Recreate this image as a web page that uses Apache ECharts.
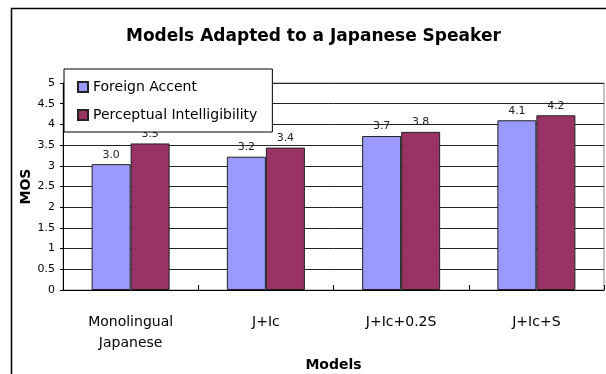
<!DOCTYPE html>
<html>
<head>
<meta charset="utf-8">
<script src="https://cdn.jsdelivr.net/npm/echarts@6/dist/echarts.min.js"></script>
<style>html,body{margin:0;padding:0;background:#fff;overflow:hidden}#c{width:606px;height:374px}</style>
</head>
<body>
<div id="c"></div>
<script>
const categories = ['Monolingual\nJapanese', 'J+Ic', 'J+Ic+0.2S', 'J+Ic+S'];
const foreignAccent = [3.04, 3.22, 3.72, 4.10];
const perceptualIntelligibility = [3.54, 3.44, 3.82, 4.22];
const seriesNames = ['Foreign Accent', 'Perceptual Intelligibility'];
const yTicks = { min: 0, max: 5, interval: 0.5 };

const FONT = 'DejaVu Sans, sans-serif';
const chart = echarts.init(document.getElementById('c'), null, { renderer: 'canvas' });
const labelCfg = {
  show: true, position: 'top', distance: 4, color: '#222', fontSize: 11, fontFamily: FONT,
  formatter: p => p.value.toFixed(1)
};
chart.setOption({
  backgroundColor: '#fff',
  animation: false,
  graphic: [{
    type: 'rect', shape: { x: 11.5, y: 8.5, width: 700, height: 500 },
    style: { fill: 'none', stroke: '#000', lineWidth: 1.5 }, z: -1
  }],
  title: {
    text: 'Models Adapted to a Japanese Speaker', left: 121, top: 23,
    textStyle: { fontFamily: FONT, fontWeight: 'bold', fontSize: 17, color: '#000' }
  },
  legend: {
    orient: 'vertical', left: 64, top: 69, data: seriesNames,
    backgroundColor: '#fff', borderColor: '#000', borderWidth: 1, borderRadius: 0,
    padding: [11, 15, 10, 13], itemGap: 14, itemWidth: 10, itemHeight: 10,
    icon: 'rect',
    textStyle: { fontFamily: FONT, fontSize: 14, color: '#000' }
  },
  grid: { left: 63, top: 83, width: 541, height: 207, outerBoundsMode: 'none', containLabel: false,
    show: true, borderColor: '#888', borderWidth: 1 },
  xAxis: {
    type: 'category', data: categories,
    name: 'Models', nameLocation: 'middle', nameGap: 68, nameMoveOverlap: false,
    nameTextStyle: { fontFamily: FONT, fontWeight: 'bold', fontSize: 14, color: '#000' },
    axisLine: { lineStyle: { color: '#000', width: 1 } },
    axisTick: { show: true, inside: true, length: 5, lineStyle: { color: '#000' } },
    axisLabel: { fontFamily: FONT, fontSize: 14, color: '#000', margin: 22, lineHeight: 21 }
  },
  yAxis: {
    type: 'value', min: yTicks.min, max: yTicks.max, interval: yTicks.interval,
    name: 'MOS', nameLocation: 'middle', nameGap: 30, nameRotate: 90, nameMoveOverlap: false,
    nameTextStyle: { fontFamily: FONT, fontWeight: 'bold', fontSize: 14, color: '#000' },
    axisLine: { show: true, lineStyle: { color: '#000', width: 1 } },
    axisTick: { show: true, length: 3, lineStyle: { color: '#000' } },
    axisLabel: { fontFamily: FONT, fontSize: 11, color: '#000', margin: 8 },
    splitLine: { show: true, lineStyle: { color: '#222', width: 1 } }
  },
  series: [
    { name: seriesNames[0], type: 'bar', data: foreignAccent, barWidth: 39, barGap: '0%',
      itemStyle: { color: '#9999FF', borderColor: '#222', borderWidth: 1 }, label: labelCfg },
    { name: seriesNames[1], type: 'bar', data: perceptualIntelligibility, barWidth: 39,
      itemStyle: { color: '#993366', borderColor: '#222', borderWidth: 1 }, label: labelCfg }
  ]
});
</script>
</body>
</html>
